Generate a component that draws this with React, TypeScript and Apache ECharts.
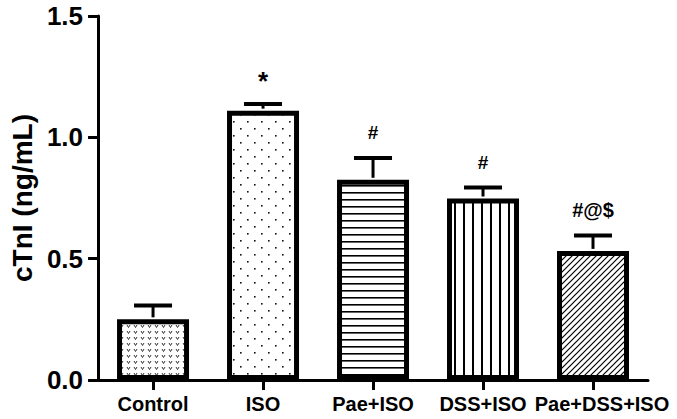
import React, { useEffect, useRef } from "react";
import * as echarts from "echarts";

const categories = ["Control", "ISO", "Pae+ISO", "DSS+ISO", "Pae+DSS+ISO"];
const means = [0.25, 1.11, 0.825, 0.748, 0.532];
const errors = [0.057, 0.027, 0.09, 0.045, 0.063];
const marks = ["", "*", "#", "#", "#@$"];
const yTicks = [0, 0.5, 1.0, 1.5];

function makeCanvas(w: number, h: number, draw: (c: CanvasRenderingContext2D) => void) {
  const cv = document.createElement("canvas");
  cv.width = w;
  cv.height = h;
  const ctx = cv.getContext("2d")!;
  ctx.fillStyle = "#ffffff";
  ctx.fillRect(0, 0, w, h);
  draw(ctx);
  return cv;
}

function patterns() {
  const control = makeCanvas(7, 6, (c) => {
    c.strokeStyle = "#333";
    c.lineWidth = 1;
    c.beginPath();
    c.moveTo(1, 1);
    c.lineTo(2.5, 3.5);
    c.lineTo(4, 1);
    c.stroke();
  });
  const iso = makeCanvas(14, 14, (c) => {
    c.fillStyle = "#111";
    c.fillRect(2, 2, 1.6, 1.6);
    c.fillRect(9, 9, 1.6, 1.6);
  });
  const horiz = makeCanvas(8, 7, (c) => {
    c.fillStyle = "#000";
    c.fillRect(0, 3, 8, 1.6);
  });
  const vert = makeCanvas(9, 8, (c) => {
    c.fillStyle = "#000";
    c.fillRect(4, 0, 2, 8);
  });
  const diag = makeCanvas(6, 6, (c) => {
    c.strokeStyle = "#000";
    c.lineWidth = 1.2;
    c.beginPath();
    c.moveTo(-1, 7);
    c.lineTo(7, -1);
    c.moveTo(-4, 4);
    c.lineTo(4, -4);
    c.moveTo(2, 10);
    c.lineTo(10, 2);
    c.stroke();
  });
  return [control, iso, horiz, vert, diag];
}

export default function App() {
  const ref = useRef<HTMLDivElement>(null);
  useEffect(() => {
    const chart = echarts.init(ref.current!, null, { renderer: "svg" });
    const pats = patterns();
    const font = "Liberation Sans, Arial, sans-serif";
    const lastCat = categories[categories.length - 1];
    chart.setOption({
      animation: false,
      backgroundColor: "#ffffff",
      grid: { left: 97, right: 29, top: 16, bottom: 39 },
      xAxis: {
        type: "category",
        data: categories,
        axisLine: { lineStyle: { color: "#000", width: 3 } },
        axisTick: { show: true, alignWithLabel: true, length: 10, lineStyle: { color: "#000", width: 3 } },
        axisLabel: {
          color: "#000",
          fontSize: 20,
          fontWeight: "bold",
          fontFamily: font,
          margin: 14,
          interval: 0,
          formatter: (v: string) => (v === lastCat ? `{last|${v}}` : v),
          rich: {
            last: {
              color: "#000",
              fontSize: 20,
              fontWeight: "bold",
              fontFamily: font,
              padding: [0, 0, 0, 18],
            },
          },
        },
      },
      yAxis: {
        type: "value",
        min: 0,
        max: 1.5,
        interval: 0.5,
        name: "cTnI (ng/mL)",
        nameLocation: "middle",
        nameGap: 62,
        nameTextStyle: { color: "#000", fontSize: 28, fontWeight: "bold", fontFamily: font },
        axisLine: { show: true, lineStyle: { color: "#000", width: 3 } },
        axisTick: { show: true, length: 10, lineStyle: { color: "#000", width: 3 } },
        splitLine: { show: false },
        axisLabel: {
          color: "#000",
          fontSize: 26,
          fontWeight: "bold",
          fontFamily: font,
          margin: 15,
          formatter: (v: number) => (yTicks.includes(v) ? v.toFixed(1) : ""),
        },
      },
      series: [
        {
          type: "bar",
          barWidth: 72,
          data: means.map((v, i) => ({
            value: v,
            itemStyle: {
              color: { image: pats[i], repeat: "repeat" },
              borderColor: "#000",
              borderWidth: 5,
            },
          })),
          z: 2,
        },
        {
          type: "custom",
          z: 3,
          data: means.map((v, i) => [i, v, errors[i]]),
          encode: { x: 0, y: 1 },
          renderItem: (params: any, api: any) => {
            const i = api.value(0);
            const v = api.value(1);
            const e = api.value(2);
            const m = marks[params.dataIndex];
            const base = api.coord([i, v]);
            const top = api.coord([i, v + e]);
            const half = 19;
            const children: any[] = [
              {
                type: "line",
                shape: { x1: base[0], y1: base[1] - 2, x2: top[0], y2: top[1] },
                style: { stroke: "#000", lineWidth: 3 },
              },
              {
                type: "line",
                shape: { x1: top[0] - half, y1: top[1], x2: top[0] + half, y2: top[1] },
                style: { stroke: "#000", lineWidth: 4 },
              },
            ];
            if (m) {
              const isStar = m === "*";
              const size = isStar ? 26 : m.length > 1 ? 20 : 19;
              children.push({
                type: "text",
                x: top[0],
                y: top[1] - (isStar ? 10 : 16),
                style: {
                  text: m,
                  fill: "#000",
                  font: `bold ${size}px ${font}`,
                  align: "center",
                  verticalAlign: "bottom",
                },
              });
            }
            return { type: "group", children };
          },
        },
      ],
    });
    return () => chart.dispose();
  }, []);
  return <div ref={ref} style={{ width: 677, height: 419, position: "absolute", left: 0, top: 0 }} />;
}
